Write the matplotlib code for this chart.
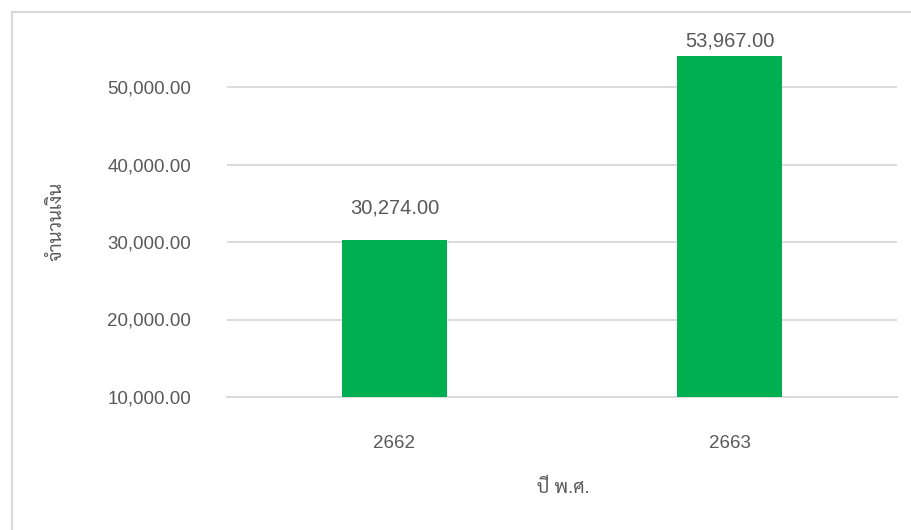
import matplotlib
matplotlib.use("Agg")
import matplotlib.pyplot as plt
from matplotlib.patches import Rectangle

# data
years = ["2662", "2663"]
amounts = [30274.00, 53967.00]
y_ticks = [10000, 20000, 30000, 40000, 50000]

plt.rcParams["font.family"] = ["Liberation Sans", "Sarabun", "Noto Sans Thai", "DejaVu Sans"]
text_color = "#595959"
grid_color = "#d9d9d9"
bar_color = "#00b050"

fig = plt.figure(figsize=(9.12, 5.3), dpi=100)

# chart area border (extends past the image on right and bottom)
fig.patches.append(Rectangle((12 / 912, -0.2), 1.0, 1.2 - 12 / 530,
                             transform=fig.transFigure, fill=False,
                             edgecolor=grid_color, linewidth=1.6))

ax = fig.add_axes([227 / 912, 1 - 397 / 530, 670 / 912, 372 / 530])
x = list(range(len(years)))
bars = ax.bar(x, amounts, width=0.313, color=bar_color, zorder=3)

ax.set_xlim(-0.5, 1.5)
ax.set_ylim(10000, 58000)
ax.set_yticks(y_ticks)
ax.set_yticklabels(["{:,.2f}".format(v) for v in y_ticks])
ax.set_xticks(x)
ax.set_xticklabels(years)

ax.grid(axis="y", color=grid_color, linewidth=1.3, zorder=0)
ax.set_axisbelow(True)
for s in ["top", "right", "left"]:
    ax.spines[s].set_visible(False)
ax.spines["bottom"].set_color(grid_color)
ax.spines["bottom"].set_linewidth(1.3)
ax.tick_params(axis="y", length=0, pad=26, labelsize=13.5, labelcolor=text_color)
ax.tick_params(axis="x", length=0, pad=27, labelsize=13.5, labelcolor=text_color)

# value labels above the bars; the tall one is pushed down to stay inside the plot area
label_offsets = [26, 10]
for b, v, off in zip(bars, amounts, label_offsets):
    ax.annotate("{:,.2f}".format(v), (b.get_x() + b.get_width() / 2, v),
                xytext=(0, off), textcoords="offset pixels",
                ha="center", va="baseline", fontsize=14.5, color=text_color)

fig.text(57 / 912, 1 - 221 / 530, "จำนวนเงิน", rotation=90, ha="center", va="center",
         fontsize=13.5, color=text_color)
fig.text(563 / 912, 1 - 488 / 530, "ปี พ.ศ.", ha="center", va="center",
         fontsize=13.5, color=text_color)

fig.savefig("out.png", dpi=100)
